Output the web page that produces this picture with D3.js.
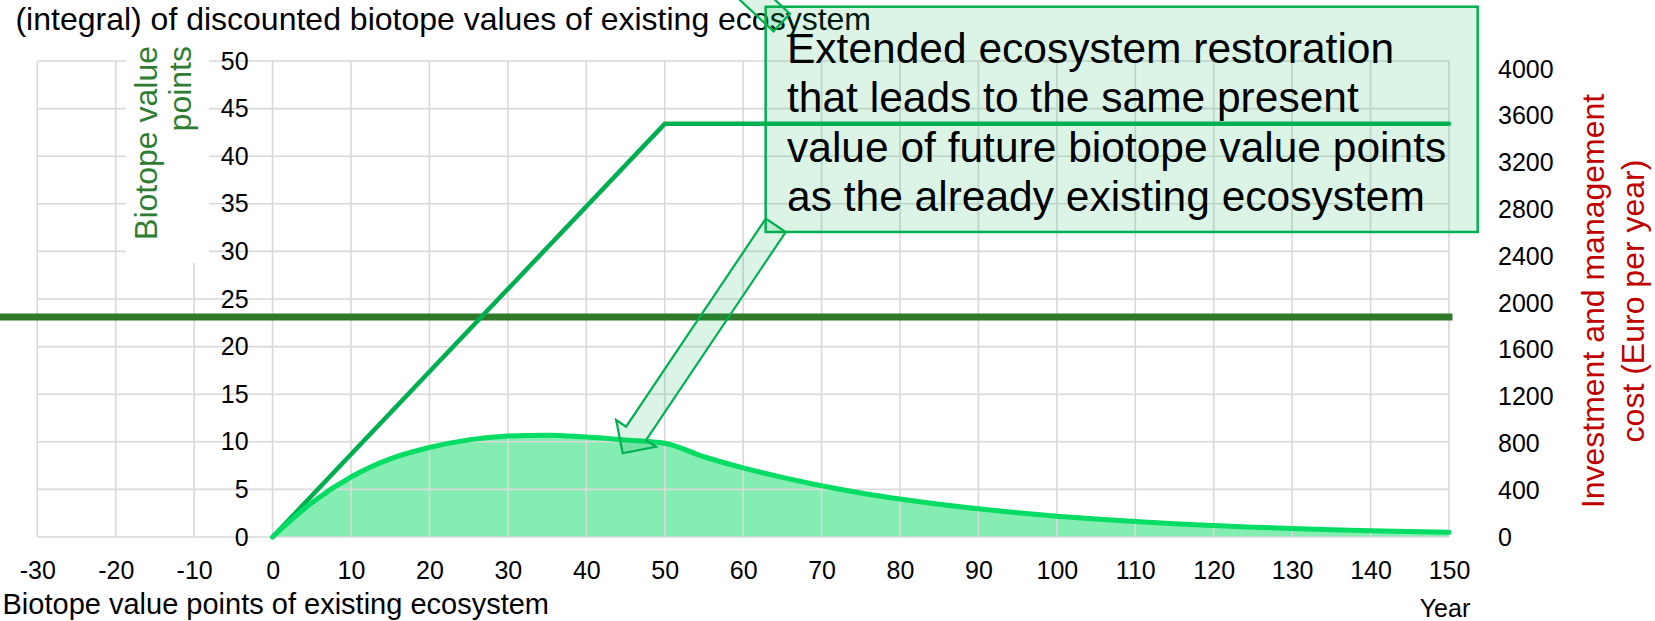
<!DOCTYPE html>
<html>
<head>
<meta charset="utf-8">
<script src="https://cdn.jsdelivr.net/npm/d3@7"></script>
<style>
  html, body { margin: 0; padding: 0; background: #fff; }
  svg { display: block; font-family: "Liberation Sans", Arial, sans-serif; }
</style>
</head>
<body>
<svg id="chart" width="1655" height="621"></svg>
<script>
// ---- data ----
const yearTicks = [-30, -20, -10, 0, 10, 20, 30, 40, 50, 60, 70, 80, 90, 100, 110, 120, 130, 140, 150];
const pointTicks = [0, 5, 10, 15, 20, 25, 30, 35, 40, 45, 50];
const costTicks = [0, 400, 800, 1200, 1600, 2000, 2400, 2800, 3200, 3600, 4000];

// biotope value points of the existing ecosystem (constant)
const existingYears = [-35, 150];
const existingValues = [23.1, 23.1];

// extended restoration: biotope value points over time
const restorationYears = [0, 50, 150];
const restorationValues = [0, 43.4, 43.4];

// discounted biotope value points of the restoration
const discountedYears = [0, 5, 10, 15, 20, 25, 30, 35, 40, 45, 50, 55, 60, 65, 70, 75, 80, 85, 90, 95, 100,
                         105, 110, 115, 120, 125, 130, 135, 140, 145, 150];
const discountedValues = [0, 3.6, 6.3, 8.2, 9.4, 10.2, 10.6, 10.7, 10.5, 10.2, 9.85, 8.43, 7.26, 6.26, 5.39, 4.63, 3.99, 3.43, 2.96, 2.54, 2.19,
                          1.88, 1.62, 1.39, 1.2, 1.03, 0.89, 0.77, 0.66, 0.57, 0.49];

const calloutLines = [
  "Extended ecosystem restoration",
  "that leads to the same present",
  "value of future biotope value points",
  "as the already existing ecosystem"
];

// ---- layout ----
const svg = d3.select("#chart");
const x = d3.scaleLinear().domain([-30, 150]).range([37.3, 1449]);
const y = d3.scaleLinear().domain([0, 50]).range([537, 61]);
const yCost = d3.scaleLinear().domain([0, 4000]).range([537, 69]);

const GRID = "#d9d9d9";
const DARK_GREEN = "#2e7a2a";
const LINE_GREEN = "#00b050";
const CURVE_GREEN = "#04dc64";
const FILL_GREEN = "#84edb2";

const pts = (xs, ys) => xs.map((d, i) => [d, ys[i]]);
const plain = d => String(d);

// area under the discounted curve
const discounted = pts(discountedYears, discountedValues);
svg.append("path")
  .datum(discounted)
  .attr("fill", FILL_GREEN)
  .attr("d", d3.area().x(d => x(d[0])).y0(y(0)).y1(d => y(d[1])).curve(d3.curveMonotoneX));

// grid
const grid = svg.append("g").attr("stroke", GRID).attr("stroke-width", 1.6);
grid.selectAll("line.v").data(yearTicks).join("line")
  .attr("x1", d => x(d)).attr("x2", d => x(d))
  .attr("y1", y(50)).attr("y2", y(0));
grid.selectAll("line.h").data(pointTicks).join("line")
  .attr("x1", x(-30)).attr("x2", x(150))
  .attr("y1", d => y(d)).attr("y2", d => y(d));

// white panel behind the left axis title
svg.append("rect").attr("x", 126).attr("y", 30).attr("width", 83).attr("height", 233).attr("fill", "#fff");

const line = d3.line().x(d => x(d[0])).y(d => y(d[1]));

// existing ecosystem level
svg.append("path")
  .datum(pts(existingYears, existingValues))
  .attr("fill", "none").attr("stroke", DARK_GREEN).attr("stroke-width", 7)
  .attr("stroke-linecap", "square")
  .attr("d", line);

// restoration trajectory
svg.append("path")
  .datum(pts(restorationYears, restorationValues))
  .attr("fill", "none").attr("stroke", LINE_GREEN).attr("stroke-width", 4.5)
  .attr("stroke-linecap", "round").attr("stroke-linejoin", "round")
  .attr("d", line);

// discounted curve
svg.append("path")
  .datum(discounted)
  .attr("fill", "none").attr("stroke", CURVE_GREEN).attr("stroke-width", 5)
  .attr("stroke-linecap", "round")
  .attr("d", line.curve(d3.curveMonotoneX));

// ---- axes ----
const styleAxis = g => {
  g.select(".domain").remove();
  g.selectAll(".tick line").remove();
  g.selectAll(".tick text").attr("fill", "#000").style("font-size", "25px")
    .style("font-family", "'Liberation Sans', Arial, sans-serif");
};

svg.append("g")
  .attr("transform", `translate(0,${y(0)})`)
  .call(d3.axisBottom(x).tickValues(yearTicks).tickSize(0).tickPadding(24).tickFormat(plain))
  .call(styleAxis);

svg.append("g")
  .attr("transform", `translate(${x(0)},0)`)
  .call(d3.axisLeft(y).tickValues(pointTicks).tickSize(0).tickPadding(24).tickFormat(plain))
  .call(styleAxis);

svg.append("g")
  .attr("transform", "translate(1498,0)")
  .call(d3.axisRight(yCost).tickValues(costTicks).tickSize(0).tickPadding(0).tickFormat(plain))
  .call(styleAxis);

// ---- axis titles ----
const leftTitle = svg.append("g").attr("fill", "#2e7d32").style("font-size", "32px");
[["Biotope value", 157], ["points", 191]].forEach(([t, bx]) => {
  leftTitle.append("text")
    .attr("transform", `translate(${bx},46) rotate(-90)`)
    .attr("text-anchor", "end").text(t);
});

const rightTitle = svg.append("g").attr("fill", "#c00000").style("font-size", "32px");
[["Investment and management", 1604], ["cost (Euro per year)", 1644]].forEach(([t, bx]) => {
  rightTitle.append("text")
    .attr("transform", `translate(${bx},301) rotate(-90)`)
    .attr("text-anchor", "middle").text(t);
});

svg.append("text").attr("x", 1445).attr("y", 617).attr("text-anchor", "middle")
  .style("font-size", "25px").attr("fill", "#000").text("Year");

// ---- annotations ----
svg.append("text").attr("x", 871).attr("y", 29.5).attr("text-anchor", "end")
  .style("font-size", "32px").attr("fill", "#000")
  .text("(integral) of discounted biotope values of existing ecosystem");

svg.append("text").attr("x", 549).attr("y", 614).attr("text-anchor", "end")
  .style("font-size", "29px").attr("fill", "#000")
  .text("Biotope value points of existing ecosystem");

// callout box (in year / point units)
const box = { x0: 62.87, x1: 153.66, y0: 55.7, y1: 32.04 };
svg.append("rect")
  .attr("x", x(box.x0)).attr("y", y(box.y0))
  .attr("width", x(box.x1) - x(box.x0)).attr("height", y(box.y1) - y(box.y0))
  .attr("fill", "rgba(0,176,80,0.14)").attr("stroke", LINE_GREEN).attr("stroke-width", 2.5);

// block arrows from the callout
function blockArrow(tail, tip, shaft, head, headLen) {
  const T = [x(tail[0]), y(tail[1])], P = [x(tip[0]), y(tip[1])];
  const len = Math.hypot(P[0] - T[0], P[1] - T[1]);
  const u = [(P[0] - T[0]) / len, (P[1] - T[1]) / len];
  const n = [-u[1], u[0]];
  const B = [P[0] - u[0] * headLen, P[1] - u[1] * headLen];
  const a = shaft / 2, b = head / 2;
  const p = (o, k) => [o[0] + n[0] * k, o[1] + n[1] * k];
  return [p(T, a), p(B, a), p(B, b), P, p(B, -b), p(B, -a), p(T, -a)];
}
const arrows = [
  { tail: [64.16, 32.74], tip: [44.64, 8.79] },
  { tail: [64.92, 54.04], tip: [55.58, 61.2] }
];
svg.selectAll("polygon.arrow").data(arrows).join("polygon")
  .attr("points", d => blockArrow(d.tail, d.tip, 24, 48, 24).map(q => q.join(",")).join(" "))
  .attr("fill", "rgba(0,176,80,0.14)").attr("stroke", LINE_GREEN).attr("stroke-width", 2.2)
  .attr("stroke-linejoin", "miter");

svg.append("g").style("font-size", "42.5px").attr("fill", "#000")
  .selectAll("text").data(calloutLines).join("text")
  .attr("x", 787).attr("y", (d, i) => 62.5 + i * 49.5).text(d => d);
</script>
</body>
</html>
